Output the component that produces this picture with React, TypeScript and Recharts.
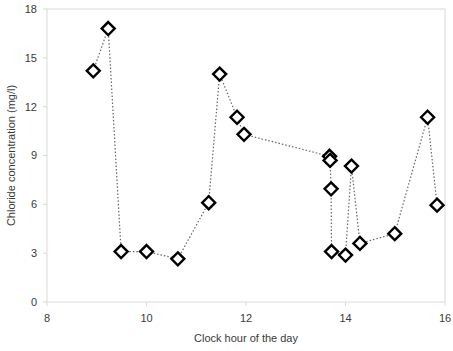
import React from 'react';
import { LineChart, Line, XAxis, YAxis, ReferenceLine } from 'recharts';

// clock hour (decimal) and chloride concentration (mg/l), in sampling order
const hours = [
  8.93, 9.23, 9.49, 10.0, 10.63, 11.25, 11.47, 11.82, 11.96, 13.68, 13.69,
  13.71, 13.72, 14.0, 14.12, 14.29, 14.99, 15.65, 15.84,
];
const chloride = [
  14.2, 16.8, 3.1, 3.1, 2.65, 6.1, 14.0, 11.35, 10.3, 8.95, 8.7, 6.95, 3.1,
  2.88, 8.35, 3.6, 4.2, 11.35, 5.95,
];
const xTicks = [8, 10, 12, 14, 16];
const yTicks = [0, 3, 6, 9, 12, 15, 18];

const data = hours.map((h, i) => ({ hour: h, cl: chloride[i] }));

const axisGray = '#d9d9d9';
const font = { fontFamily: '"Liberation Sans", Arial, sans-serif', fontSize: 11, fill: '#3a3a3a' };

function Diamond(props: any) {
  const { cx, cy } = props;
  if (cx == null || cy == null) return null;
  const r = 6.5;
  return (
    <polygon
      points={`${cx},${cy - r} ${cx + r},${cy} ${cx},${cy + r} ${cx - r},${cy}`}
      fill="#fff"
      stroke="#000"
      strokeWidth={2.4}
    />
  );
}

export default function App() {
  return (
    <div style={{ position: 'absolute', left: 0, top: 0, background: '#fff' }}>
      <LineChart
        width={453}
        height={351}
        data={data}
        margin={{ top: 9, right: 8, bottom: 9, left: 0 }}
      >
        <XAxis
          type="number"
          dataKey="hour"
          domain={[8, 16]}
          ticks={xTicks}
          stroke={axisGray}
          tickSize={4}
          tickMargin={8}
          height={40}
          tick={font}
          label={{
            value: 'Clock hour of the day',
            position: 'insideBottom',
            offset: 0,
            style: font,
          }}
        />
        <YAxis
          type="number"
          domain={[0, 18]}
          ticks={yTicks}
          stroke={axisGray}
          tickSize={4}
          tickMargin={6}
          width={47}
          tick={font}
          label={{
            value: 'Chloride concentration (mg/l)',
            angle: -90,
            position: 'insideLeft',
            offset: 11,
            style: { ...font, textAnchor: 'middle' },
          }}
        />
        <ReferenceLine y={18} stroke={axisGray} />
        <ReferenceLine x={16} stroke={axisGray} />
        <Line
          dataKey="cl"
          type="linear"
          stroke="#666"
          strokeWidth={1.2}
          strokeDasharray="1.5 2"
          dot={<Diamond />}
          activeDot={false}
          isAnimationActive={false}
        />
      </LineChart>
    </div>
  );
}
